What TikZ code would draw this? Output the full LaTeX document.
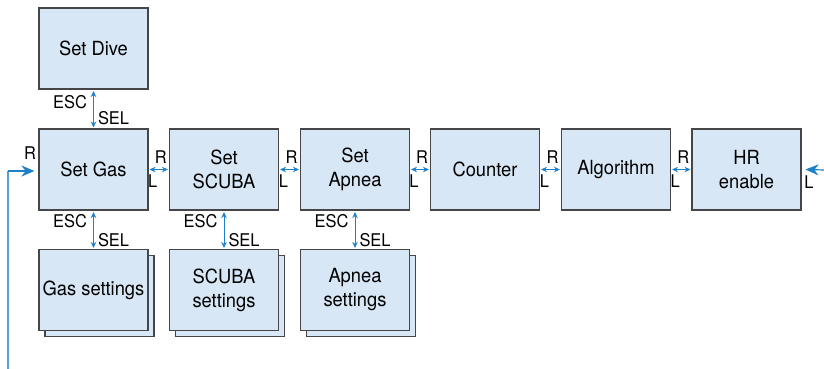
\documentclass[tikz,border=0pt]{standalone}
\usepackage{fontspec}
\setmainfont[FakeStretch=0.94]{TeX Gyre Heros}
\usetikzlibrary{arrows.meta,calc}
\definecolor{boxblue}{RGB}{216,231,245}
\definecolor{boxline}{RGB}{70,70,72}
\definecolor{arrblue}{RGB}{30,128,200}
\definecolor{loopblue}{RGB}{80,160,220}
\begin{document}
\begin{tikzpicture}[x=1pt,y=-1pt,
  box/.style={draw=boxline,fill=boxblue,line width=1.1pt,minimum width=109pt,minimum height=81pt,inner sep=0pt,align=center,font=\fontsize{19.5}{24}\selectfont},
  shadowbox/.style={draw=boxline,fill=boxblue,line width=1.1pt,minimum width=109pt,minimum height=81pt,inner sep=0pt},
  lab/.style={font=\fontsize{17.5}{19}\selectfont,inner sep=0pt},
  link/.style={draw=arrblue,line width=1pt,{Stealth[length=6pt,width=5.5pt]}-{Stealth[length=6pt,width=5.5pt]}},
  loopline/.style={draw=loopblue,line width=1.6pt},
  looparrow/.style={draw=arrblue,line width=1.2pt,-{Stealth[length=13pt,width=11pt]}}
]
\useasboundingbox (0,0) rectangle (824,369);
% top
\node[box] (dive) at (93.5,48.5) {Set Dive};
% main row
\node[box] (gas) at (93.5,169.5) {Set Gas};
\node[box] (scuba) at (224,169.5) {Set\\SCUBA};
\node[box] (apnea) at (355,169.5) {Set\\Apnea};
\node[box] (counter) at (485,169.5) {Counter};
\node[box] (algo) at (616,169.5) {Algorithm};
\node[box] (hr) at (746.5,169.5) {HR\\enable};
% settings with shadows
\node[shadowbox] (gassh) at (99.5,296) {};
\node[box] (gasset) at (93.5,290) {Gas settings};
\node[shadowbox] (scubash) at (230,296) {};
\node[box] (scubaset) at (224,290) {SCUBA\\settings};
\node[shadowbox] (apneash) at (361,296) {};
\node[box] (apneaset) at (355,290) {Apnea\\settings};
% vertical links
\draw[link] ([yshift=-1.5pt]dive.south) -- ([yshift=1pt]gas.north)
  node[lab,pos=0.3,anchor=east,xshift=-6pt] {ESC}
  node[lab,pos=0.75,anchor=west,xshift=4pt] {SEL};
\draw[link] ([yshift=-1.5pt]gas.south) -- ([yshift=1pt]gasset.north)
  node[lab,pos=0.25,anchor=east,xshift=-6pt] {ESC}
  node[lab,pos=0.78,anchor=west,xshift=4pt] {SEL};
\draw[link] ([yshift=-1.5pt]scuba.south) -- ([yshift=1pt]scubaset.north)
  node[lab,pos=0.25,anchor=east,xshift=-6pt] {ESC}
  node[lab,pos=0.78,anchor=west,xshift=4pt] {SEL};
\draw[link] ([yshift=-1.5pt]apnea.south) -- ([yshift=1pt]apneaset.north)
  node[lab,pos=0.25,anchor=east,xshift=-6pt] {ESC}
  node[lab,pos=0.78,anchor=west,xshift=4pt] {SEL};
% horizontal links
\foreach \a/\b in {gas/scuba,scuba/apnea,apnea/counter,counter/algo,algo/hr}{
  \draw[link] ([xshift=1pt]\a.east) -- ([xshift=-1pt]\b.west)
    node[lab,midway,yshift=12pt,xshift=2pt] {R}
    node[lab,midway,yshift=-12pt,xshift=-6pt] {L};
}
% loop in from left
\coordinate (loopstart) at (8,369);
\coordinate (loopcorner) at (8,171);
\draw[loopline] (loopstart) -- (loopcorner);
\draw[looparrow] (loopcorner) -- ([xshift=-4pt,yshift=-1.5pt]gas.west);
\node[lab] (rlab) at (30,153) {R};
% loop in from right
\coordinate (rightin) at (824,170);
\draw[looparrow] (rightin) -- ([xshift=4pt]hr.east);
\node[lab] (llab) at (809,182) {L};
\end{tikzpicture}
\end{document}
